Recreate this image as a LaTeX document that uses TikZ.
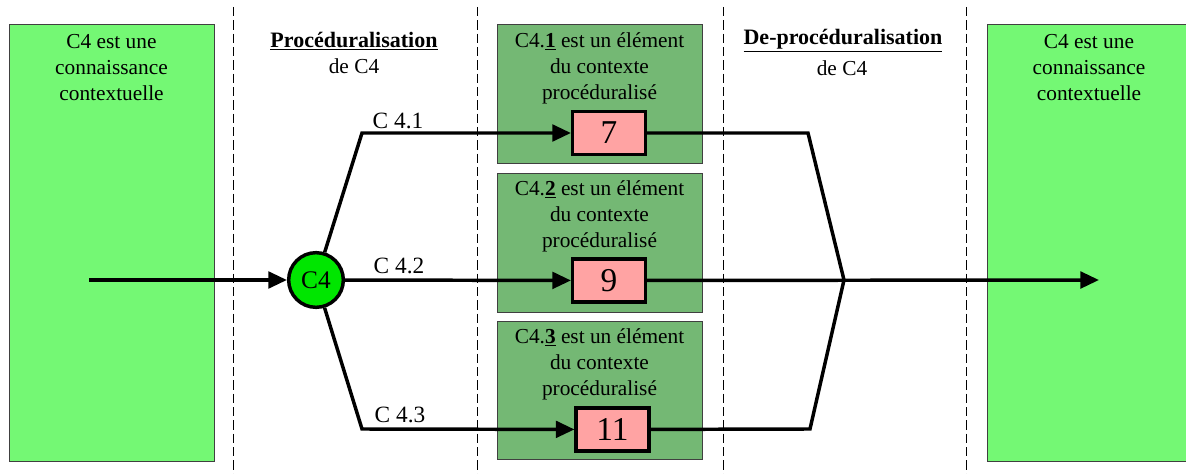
\documentclass[tikz,border=0pt]{standalone}
\usepackage{fontspec}
\setmainfont{Liberation Serif}
\usepackage{tikz}
\usetikzlibrary{arrows.meta}
\definecolor{vertclair}{RGB}{116,248,116}
\definecolor{vertfonce}{RGB}{116,184,116}
\definecolor{vertvif}{RGB}{0,230,0}
\definecolor{rose}{RGB}{255,163,163}
\begin{document}
\begin{tikzpicture}[x=0.75pt,y=-0.75pt,
	fleche/.style={line width=2.6pt,-{Triangle[length=14pt,width=12.5pt]}},
	trait/.style={line width=2.6pt},
	sep/.style={dash pattern=on 7pt off 3pt,line width=0.7pt},
	zone/.style={draw=black!75,line width=0.7pt},
	txt/.style={align=center,inner sep=0pt,font=\fontsize{16}{19.5}\selectfont},
	titre/.style={inner sep=0pt,font=\bfseries\fontsize{16.5}{19}\selectfont},
	lbl/.style={inner sep=0pt,font=\fontsize{17.5}{17.5}\selectfont},
	etape/.style={rectangle,draw,line width=2.6pt,fill=rose,minimum width=54.5pt,minimum height=32.5pt,inner sep=0pt,font=\fontsize{25}{25}\selectfont}]
\useasboundingbox (0,0) rectangle (1186,474);
\draw[sep] (233,7) -- (233,474);
\draw[sep] (477,7) -- (477,474);
\draw[sep] (723,7) -- (723,474);
\draw[sep] (966,7) -- (966,474);
\filldraw[zone,fill=vertclair] (9,24) rectangle (214,461);
\filldraw[zone,fill=vertclair] (987,24) rectangle (1192,461);
\filldraw[zone,fill=vertfonce] (497,24) rectangle (702,163);
\filldraw[zone,fill=vertfonce] (497,173) rectangle (702,312);
\filldraw[zone,fill=vertfonce] (497,321) rectangle (702,459);
\node[txt] (gauche) at (111.5,68) {C4 est une\\connaissance\\contextuelle};
\node[txt] (droite) at (1089,68) {C4 est une\\connaissance\\contextuelle};
\node[titre] (proc) at (354,41) {\underline{Procéduralisation}};
\node[txt] (proc2) at (354,66) {de C4};
\node[titre] (deproc) at (843,41) {\underline{De-procéduralisation}};
\node[txt] (deproc2) at (842,68) {de C4};
\node[txt] (t1) at (599.5,68.5) {C4.\underline{\textbf{1}} est un élément\\du contexte\\procéduralisé};
\node[txt] (t2) at (599.5,216.5) {C4.\underline{\textbf{2}} est un élément\\du contexte\\procéduralisé};
\node[txt] (t3) at (599.5,364) {C4.\underline{\textbf{3}} est un élément\\du contexte\\procéduralisé};
\node[etape] (e1) at (609,133) {7};
\node[etape] (e2) at (609,280.5) {9};
\node[etape] (e3) at (612.5,429.5) {11};
\node[circle,draw,line width=2.6pt,fill=vertvif,minimum size=41pt,inner sep=0pt,font=\fontsize{19}{19}\selectfont] (c4) at (316,280) {C4};
\node[lbl] (l1) at (398,121) {C 4.1};
\node[lbl] (l2) at (399,266) {C 4.2};
\node[lbl] (l3) at (400,415) {C 4.3};
\coordinate (depart) at (89,280);
\coordinate (k1) at (362,133);
\coordinate (k3) at (362,429);
\coordinate (s1) at (808,133);
\coordinate (s3) at (810,429);
\coordinate (jonc) at (844,280);
\coordinate (fin) at (1099,280);
\draw[fleche] (depart) -- (c4);
\draw[fleche] (c4) -- (k1) -- (e1);
\draw[fleche] (c4) -- (e2);
\draw[fleche] (c4) -- (k3) -- (e3);
\draw[trait] (e1) -- (s1) -- (jonc);
\draw[trait] (e3) -- (s3) -- (jonc);
\draw[fleche] (e2) -- (fin);
\end{tikzpicture}
\end{document}
